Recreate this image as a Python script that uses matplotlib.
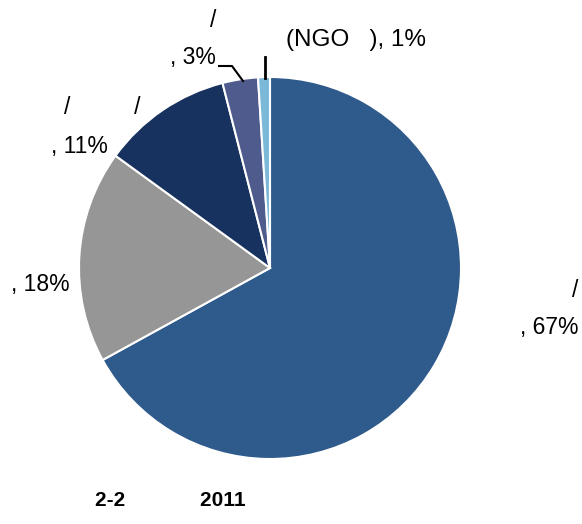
import matplotlib
matplotlib.use("Agg")
import matplotlib.pyplot as plt

# shares (percent), clockwise from 12 o'clock
shares = [67, 18, 11, 3, 1]
colors = ["#2F5A8C", "#969696", "#17325E", "#4F5B8C", "#7CB8D8"]
labels = ["/\n, 67%", ", 18%", ", 11%", "/\n, 3%", "(NGO   ), 1%"]

W, H = 582, 524
fig = plt.figure(figsize=(W / 100, H / 100), dpi=100)
ax = fig.add_axes([0, 0, 1, 1])

cx, cy, r = 270, H - 268, 191
ax.pie(shares, colors=colors, startangle=90, counterclock=False,
       center=(cx, cy), radius=r, frame=True,
       wedgeprops=dict(edgecolor="white", linewidth=1.5))
ax.set_xlim(0, W)
ax.set_ylim(0, H)
ax.set_aspect("equal")
ax.axis("off")

font = dict(family="Liberation Sans", fontsize=16.5, color="black")

# label positions (figure pixels, y from top)
ax.text(578, H - 309, labels[0], ha="right", va="center",
        multialignment="right", linespacing=1.75, **font)
ax.text(70, H - 284, labels[1], ha="right", va="center", **font)
ax.text(102, H - 107, "/" + " " * 10 + "/", ha="center", va="center", **font)
ax.text(79, H - 146, labels[2], ha="center", va="center", **font)
ax.text(216, H - 39, labels[3], ha="right", va="center",
        multialignment="right", linespacing=1.75, **font)
ax.text(286, H - 40, labels[4], ha="left", va="center",
        family="Liberation Sans", fontsize=17.5)

# leader lines
ax.plot([219, 232, 243], [H - 66, H - 66, H - 81], color="black", lw=1.5)
ax.plot([265, 265], [H - 57, H - 78], color="black", lw=2)

ax.text(95, H - 500, "2-2" + " " * 13 + "2011", ha="left", va="center",
        family="Liberation Sans", fontsize=15, fontweight="bold")

fig.savefig("out.png", dpi=100)
